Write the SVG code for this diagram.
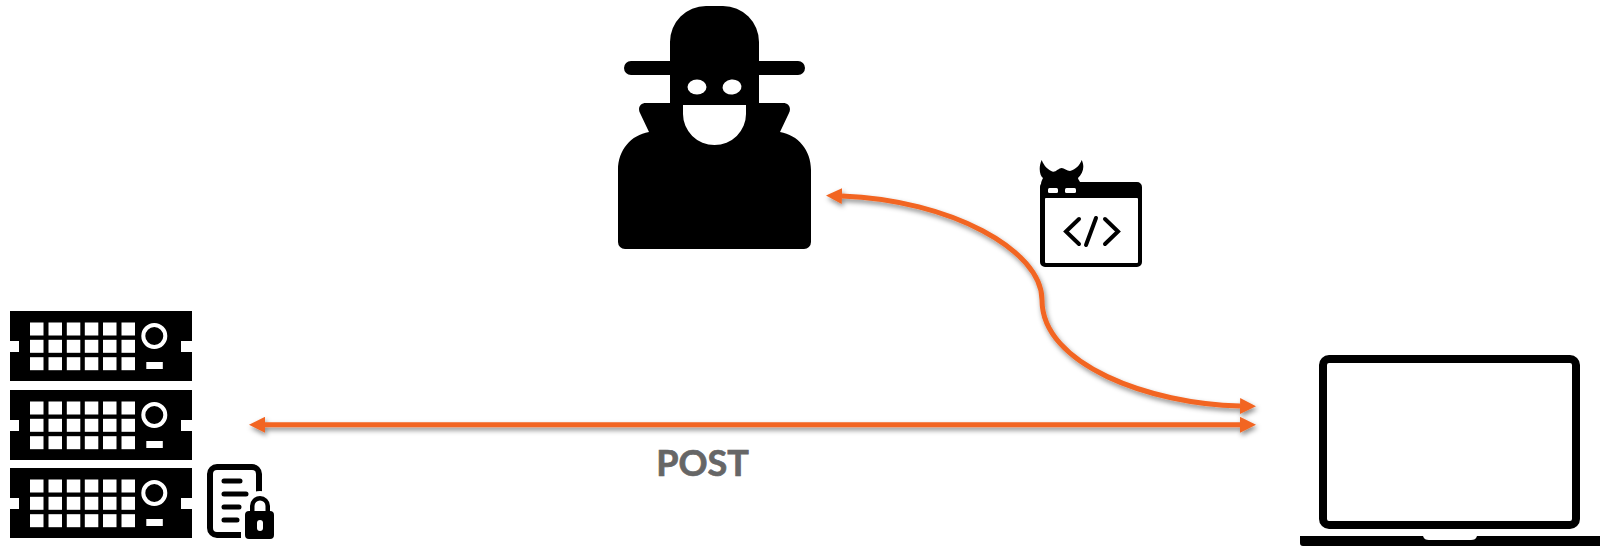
<svg xmlns="http://www.w3.org/2000/svg" width="1600" height="546" viewBox="0 0 1600 546">
<style>
.k{fill:#000}.w{fill:#fff}
.c{fill:none;stroke:#f26522;stroke-width:5}
.lbl{font-family:"Lato","Liberation Sans",sans-serif;font-weight:700;font-size:36px;fill:#666;stroke:#666;stroke-width:.7;text-anchor:middle}
.wl{fill:none;stroke:#000;stroke-linecap:round}
.s rect{width:13.500px;height:13px}
</style>
<defs>
<filter id="sh" filterUnits="userSpaceOnUse" x="200" y="160" width="1100" height="300"><feDropShadow dx="1.500" dy="3" stdDeviation="2.500" flood-color="#000" flood-opacity=".45"/></filter>
<marker id="ah" viewBox="0 0 16 16" refX="0" refY="8" markerWidth="16" markerHeight="16" markerUnits="userSpaceOnUse" orient="auto-start-reverse"><path d="M0 0L16 8L0 16Z" fill="#f26522"/></marker>
<g id="rack">
<path class="k" d="M10 311H192V341H181V352H192V381H10V352H19V341H10Z"/>
<g class="w s">
<rect x="30" y="322.5"/><rect x="48.5" y="322.5"/><rect x="66.800" y="322.5"/><rect x="84.800" y="322.5"/><rect x="103" y="322.5"/><rect x="121.500" y="322.5"/>
<rect x="30" y="339.8"/><rect x="48.5" y="339.8"/><rect x="66.800" y="339.8"/><rect x="84.800" y="339.8"/><rect x="103" y="339.8"/><rect x="121.500" y="339.8"/>
<rect x="30" y="357.2"/><rect x="48.5" y="357.2"/><rect x="66.800" y="357.2"/><rect x="84.800" y="357.2"/><rect x="103" y="357.2"/><rect x="121.500" y="357.2"/>
</g>
<rect class="w" x="146.3" y="362" width="16.5" height="7"/>
<circle cx="154.3" cy="336" r="11" fill="none" stroke="#fff" stroke-width="4"/>
</g>
</defs>
<rect width="1600" height="546" fill="#fff"/>
<g id="attacker">
<path class="k" d="M670 61V42A36 36 0 0 1 706 6H723A36 36 0 0 1 759 42V61H798A7 7 0 0 1 798 75H759V103H783C789 103 791.500 108 789 113L780 132C798 135 811 150 811 170V242A7 7 0 0 1 804 249H625A7 7 0 0 1 618 242V170C618 150 631 135 649 132L640 113C637.500 108 640 103 646 103H670V75H631A7 7 0 0 1 631 61Z"/>
<path class="w" d="M683 105H746V114A31.500 31 0 0 1 683 114Z"/>
<ellipse class="w" cx="697" cy="87" rx="9.500" ry="7.500"/>
<ellipse class="w" cx="732" cy="87" rx="9.500" ry="7.500" transform="rotate(-6 732 87)"/>
</g>
<g id="servers">
<use href="#rack"/>
<use href="#rack" y="79"/>
<use href="#rack" y="157"/>
</g>
<g id="encrypted-document">
<rect x="210" y="467" width="49" height="68" rx="7" fill="none" stroke="#000" stroke-width="6"/>
<g class="wl" stroke-width="5">
<path d="M224 481H240M224 494H246M224 507H239M224 520H237"/>
</g>
<path class="w" d="M241 541V510H246V505A14 14 0 0 1 274 505V510H277V541Z"/>
<path class="k" d="M245 515A4 4 0 0 1 249 511H250V506A10 10 0 0 1 270 506V511A4 4 0 0 1 274 515V535A4 4 0 0 1 270 539H249A4 4 0 0 1 245 535Z"/>
<path class="w" d="M254.500 511V506A5.500 5.500 0 0 1 265.500 506V511Z"/>
<rect class="w" x="257" y="520" width="6" height="11" rx="3"/>
</g>
<g id="malicious-script">
<path class="k" d="M1041.700 160C1038 168 1040 176 1043 178C1042 180 1041 182 1041 184C1040 185 1040 186 1040 188V262A5 5 0 0 0 1045 267H1137A5 5 0 0 0 1142 262V187A5 5 0 0 0 1137 182H1080C1079 180 1078 179 1078 178C1083 173 1085 167 1081.700 160C1080 165 1076 169 1070 171C1067 171 1064 168 1061.700 168C1059 168 1056 172 1053 171.700C1048 170 1044 166 1041.700 160Z"/>
<rect class="w" x="1045" y="198" width="93" height="65" rx="1"/>
<rect class="w" x="1048" y="188" width="10" height="5" rx="1.500"/>
<rect class="w" x="1065" y="188" width="11" height="5" rx="1.500"/>
<path class="wl" stroke-width="4" d="M1079 219L1066 231.500L1079 244M1105 219L1118 231.500L1105 244M1096 218L1086 245"/>
</g>
<g id="laptop">
<rect x="1323" y="359" width="253" height="166" rx="6" fill="#fff" stroke="#000" stroke-width="8"/>
<path class="k" d="M1300 536H1423C1424 539 1426 540 1429 540H1471C1474 540 1476 539 1477 536H1600V546H1303C1301 546 1300 545 1300 543Z"/>
</g>
<g id="connectors" filter="url(#sh)">
<line class="c" x1="265" y1="424.800" x2="1240" y2="424.800" marker-start="url(#ah)" marker-end="url(#ah)"/>
<path class="c" d="M842 196C950 200 1042 250 1042 300C1042 365 1150 404 1240 406" marker-start="url(#ah)" marker-end="url(#ah)"/>
</g>
<text class="lbl" x="702.500" y="476">POST</text>
</svg>
